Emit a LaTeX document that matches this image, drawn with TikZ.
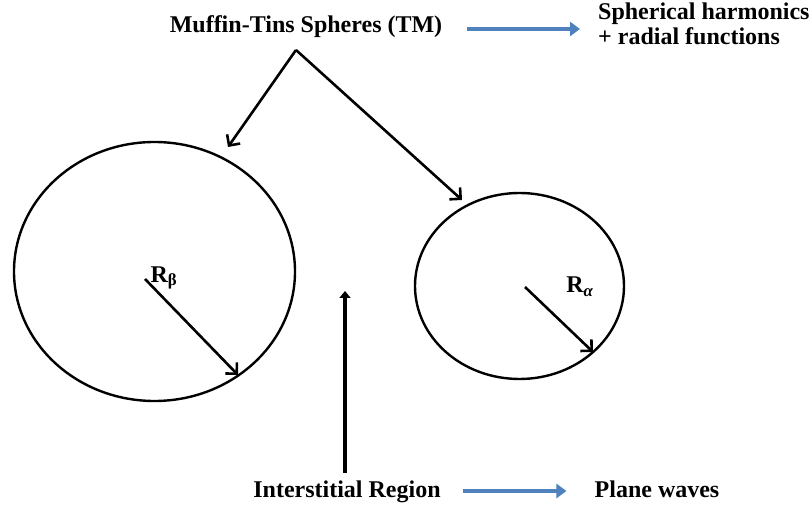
\documentclass[tikz,border=0pt]{standalone}
\usepackage{fontspec}
\setmainfont{Liberation Serif}
\usepackage{tikz}
\usetikzlibrary{arrows.meta,shapes.geometric}

\definecolor{arrowblue}{RGB}{79,129,189}

\begin{document}
\begin{tikzpicture}[x=1pt,y=-1pt,
    lbl/.style={font=\fontsize{24}{25}\selectfont\bfseries, inner sep=0pt},
    sphere/.style={draw, ellipse, line width=2.4pt, inner sep=0pt},
    blk/.style={line width=2.6pt, -{Straight Barb[length=8pt,width=16pt]}},
    blu/.style={draw=arrowblue, line width=3.4pt, -{Triangle[length=10pt,width=14pt]}}]
    \useasboundingbox (0,0) rectangle (812,510);
    % labels
    \node[lbl, anchor=base] (tm) at (306,33) {Muffin-Tins Spheres (TM)};
    \node[lbl, anchor=north west, align=left] (sph) at (598,3) {Spherical harmonics\\+ radial functions};
    \node[lbl, anchor=base] (ir) at (347,498) {Interstitial Region};
    \node[lbl, anchor=base] (pw) at (657,498) {Plane waves};
    % the two spheres
    \node[sphere, minimum width=281pt, minimum height=259pt] (beta) at (154.5,271.5) {};
    \node[sphere, minimum width=209pt, minimum height=186pt] (alpha) at (519.5,286) {};
    \node[lbl] (rb) at (164,278) {R\textsubscript{β}};
    \node[lbl] (ra) at (580,287) {R\textsubscript{\textit{α}}};
    % coordinates for arrow ends
    \coordinate (fork) at (296,50);
    \coordinate (tipb) at (228,147);
    \coordinate (tipa) at (462,200);
    \coordinate (cb) at (145,279);
    \coordinate (eb) at (238,375);
    \coordinate (ca) at (525,287);
    \coordinate (ea) at (593,352);
    \coordinate (up) at (345,291);
    \coordinate (low) at (345,473);
    \coordinate (ytop) at (0,29);
    \coordinate (ybot) at (0,491);
    % arrows
    \draw[blk] (fork) -- (tipb);
    \draw[blk] (fork) -- (tipa);
    \draw[blk] (cb) -- (eb);
    \draw[blk] (ca) -- (ea);
    \draw[line width=4pt, -{Triangle[length=7pt,width=11pt]}] (low) -- (up);
    \draw[blu, shorten <=25pt, shorten >=18pt] (tm.east |- ytop) -- (sph.west |- ytop);
    \draw[blu, shorten <=22pt, shorten >=28pt] (ir.east |- ybot) -- (pw.west |- ybot);
\end{tikzpicture}
\end{document}
